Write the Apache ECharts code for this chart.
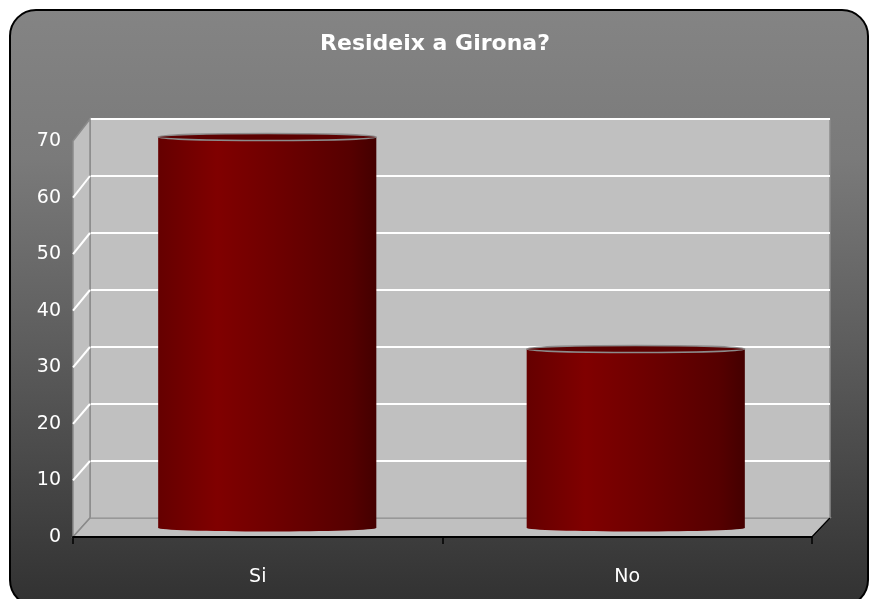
<!DOCTYPE html>
<html>
<head>
<meta charset="utf-8">
<script src="https://cdn.jsdelivr.net/npm/echarts@6/dist/echarts.min.js"></script>
<style>
  html, body { margin: 0; padding: 0; background: #ffffff; }
  #chart { width: 870px; height: 599px; }
</style>
</head>
<body>
<div id="chart"></div>
<script>
// Survey answers: "Resideix a Girona?"
const categories = ['Si', 'No'];
const values = [68.6, 31.4];
const yTicks = [0, 10, 20, 30, 40, 50, 60, 70];

const yMin = yTicks[0];
const yMax = yTicks[yTicks.length - 1];
const yStep = yTicks[1] - yTicks[0];

const FONT = 'DejaVu Sans';
const BAR_RATIO = 0.592;

const chart = echarts.init(document.getElementById('chart'), null, { renderer: 'canvas' });

// Cylinder-shaped bar: body, rounded base and a thin top cap
function renderCylinder(params, api) {
  const xi = api.value(0);
  const v = api.value(1);
  const top = api.coord([xi, v]);
  const base = api.coord([xi, 0]);
  const w = api.size([1, 0])[0] * BAR_RATIO;
  const left = top[0] - w / 2;
  const ry = 3.5;
  const grad = {
    type: 'linear', x: 0, y: 0, x2: 1, y2: 0,
    colorStops: [
      { offset: 0, color: '#650000' },
      { offset: 0.27, color: '#800000' },
      { offset: 0.6, color: '#6a0000' },
      { offset: 0.88, color: '#560000' },
      { offset: 1, color: '#440000' }
    ]
  };
  return {
    type: 'group',
    children: [
      { type: 'ellipse', shape: { cx: top[0], cy: base[1], rx: w / 2, ry: ry }, style: { fill: grad } },
      { type: 'rect', shape: { x: left, y: top[1], width: w, height: base[1] - top[1] }, style: { fill: grad } },
      { type: 'ellipse', shape: { cx: top[0], cy: top[1], rx: w / 2, ry: ry },
        style: { fill: '#5c0000', stroke: '#8c8c8c', lineWidth: 1.5 } }
    ]
  };
}

const option = {
  animation: false,
  backgroundColor: '#ffffff',
  title: {
    text: 'Resideix a Girona?',
    left: 'center',
    top: 28,
    textStyle: { color: '#ffffff', fontFamily: FONT, fontWeight: 'bold', fontSize: 22 }
  },
  grid: [
    // back wall
    { left: 90, right: 40, top: 119, bottom: 81, show: true, backgroundColor: '#c0c0c0',
      borderColor: '#8a8a8a', borderWidth: 1.5, z: 1 },
    // front axes
    { left: 73, right: 58, top: 141, bottom: 62 },
    // bars at mid depth
    { left: 83, right: 50, top: 129, bottom: 71 }
  ],
  xAxis: [
    { gridIndex: 0, type: 'category', data: categories, show: false },
    { gridIndex: 1, type: 'category', data: categories,
      axisLine: { show: true, lineStyle: { color: '#000000', width: 2 } },
      axisTick: { show: true, interval: 0, length: 7, lineStyle: { color: '#000000', width: 1.5 } },
      axisLabel: { color: '#ffffff', fontFamily: FONT, fontSize: 19, margin: 31 },
      z: 6 },
    { gridIndex: 2, type: 'category', data: categories, show: false }
  ],
  yAxis: [
    { gridIndex: 0, type: 'value', min: yMin, max: yMax, interval: yStep,
      axisLine: { show: false }, axisTick: { show: false }, axisLabel: { show: false },
      splitLine: { show: true, lineStyle: { color: '#ffffff', width: 2 } }, z: 1 },
    { gridIndex: 1, type: 'value', min: yMin, max: yMax, interval: yStep,
      axisLine: { show: false }, axisTick: { show: false }, splitLine: { show: false },
      axisLabel: { color: '#ffffff', fontFamily: FONT, fontSize: 19, margin: 12 } },
    { gridIndex: 2, type: 'value', min: yMin, max: yMax, interval: yStep, show: false,
      splitLine: { show: false } }
  ],
  series: [
    {
      type: 'custom',
      xAxisIndex: 2,
      yAxisIndex: 2,
      z: 5,
      renderItem: renderCylinder,
      data: categories.map((c, i) => [i, values[i]])
    }
  ]
};

chart.setOption(option);

// Frame, side wall, floor and side-wall gridlines, placed from the axis scales
function drawFrame() {
  const backY = v => chart.convertToPixel({ yAxisIndex: 0 }, v);
  const frontY = v => chart.convertToPixel({ yAxisIndex: 1 }, v);
  const g0 = chart.getModel().getComponent('grid', 0).coordinateSystem.getRect();
  const g1 = chart.getModel().getComponent('grid', 1).coordinateSystem.getRect();
  const bx0 = g0.x, bx1 = g0.x + g0.width;
  const fx0 = g1.x, fx1 = g1.x + g1.width;
  const by0 = backY(yMin), fy0 = frontY(yMin);
  const byT = backY(yMax), fyT = frontY(yMax);

  const elements = [
    {
      type: 'rect', z: -10, silent: true,
      shape: { x: 10, y: 10, width: 858, height: 596, r: 26 },
      style: {
        fill: {
          type: 'linear', x: 0, y: 0, x2: 0, y2: 1,
          colorStops: [
            { offset: 0, color: '#848484' },
            { offset: 0.25, color: '#7a7a7a' },
            { offset: 0.55, color: '#5e5e5e' },
            { offset: 0.8, color: '#454545' },
            { offset: 1, color: '#313131' }
          ]
        },
        stroke: '#000000', lineWidth: 2
      }
    },
    // side wall
    {
      type: 'polygon', z: 1, silent: true,
      shape: { points: [[fx0, fyT], [bx0, byT], [bx0, by0], [fx0, fy0]] },
      style: { fill: '#c0c0c0', stroke: '#8a8a8a', lineWidth: 1.5 }
    },
    // floor
    {
      type: 'polygon', z: 1, silent: true,
      shape: { points: [[fx0, fy0], [bx0, by0], [bx1, by0], [fx1, fy0]] },
      style: { fill: '#c0c0c0', stroke: '#8a8a8a', lineWidth: 1.5 }
    },
    // right floor edge
    {
      type: 'line', z: 2, silent: true,
      shape: { x1: fx1, y1: fy0, x2: bx1, y2: by0 },
      style: { stroke: '#000000', lineWidth: 1.5 }
    }
  ];
  yTicks.slice(1, -1).forEach(v => {
    elements.push({
      type: 'line', z: 2, silent: true,
      shape: { x1: fx0, y1: frontY(v), x2: bx0, y2: backY(v) },
      style: { stroke: '#ffffff', lineWidth: 2 }
    });
  });
  chart.setOption({ graphic: { elements: elements } });
}
drawFrame();
</script>
</body>
</html>
